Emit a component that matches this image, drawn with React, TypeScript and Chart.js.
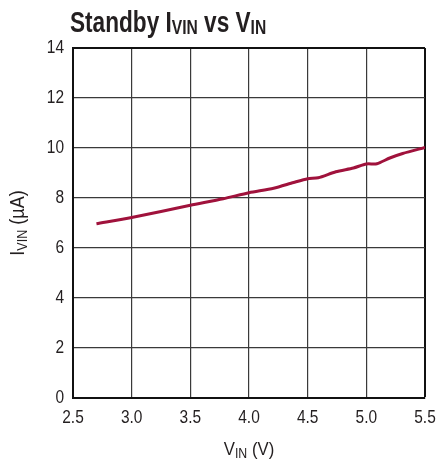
import React, { useEffect, useRef } from "react";
import { Chart, registerables } from "chart.js";

Chart.register(...registerables);

// Data
const vinVolts = [2.7, 3.0, 3.5, 3.78, 4.0, 4.21, 4.38, 4.5, 4.59, 4.74, 4.89, 5.0, 5.09, 5.2, 5.31, 5.5];
const iinMicroAmps = [6.97, 7.22, 7.71, 7.97, 8.21, 8.39, 8.62, 8.77, 8.81, 9.05, 9.2, 9.36, 9.37, 9.6, 9.78, 10.02];

const xMin = 2.5;
const xMax = 5.5;
const xStep = 0.5;
const yMin = 0;
const yMax = 14;
const yStep = 2;

type Run = { text: string; sub?: boolean };

const titleRuns: Run[] = [
  { text: "Standby I" },
  { text: "VIN", sub: true },
  { text: " vs V" },
  { text: "IN", sub: true },
];
const xTitleRuns: Run[] = [{ text: "V" }, { text: "IN", sub: true }, { text: " (V)" }];
const yTitleRuns: Run[] = [{ text: "I" }, { text: "VIN", sub: true }, { text: " (µA)" }];

const FAMILY = '"Liberation Sans", Arial, sans-serif';
const TEXT = "#231f20";
const NARROW = 0.86;

function drawRuns(
  ctx: CanvasRenderingContext2D,
  runs: Run[],
  x: number,
  y: number,
  mainFont: string,
  subFont: string,
  subDy: number,
  sx: number,
  align: "left" | "center" | "right"
) {
  let total = 0;
  for (const r of runs) {
    ctx.font = r.sub ? subFont : mainFont;
    total += ctx.measureText(r.text).width * sx;
  }
  let cx = align === "center" ? x - total / 2 : align === "right" ? x - total : x;
  for (const r of runs) {
    ctx.font = r.sub ? subFont : mainFont;
    const w = ctx.measureText(r.text).width * sx;
    ctx.save();
    ctx.translate(cx, y + (r.sub ? subDy : 0));
    ctx.scale(sx, 1);
    ctx.fillText(r.text, 0, 0);
    ctx.restore();
    cx += w;
  }
}

const labelsPlugin = {
  id: "labelsPlugin",
  afterDraw(chart: any) {
    const ctx: CanvasRenderingContext2D = chart.ctx;
    const area = chart.chartArea;
    const xs = chart.scales.x;
    const ys = chart.scales.y;
    ctx.save();
    ctx.fillStyle = TEXT;
    ctx.textAlign = "left";
    // Tick labels (condensed)
    ctx.textBaseline = "middle";
    const tickFont = `18px ${FAMILY}`;
    for (const t of ys.ticks) {
      const py = ys.getPixelForValue(t.value);
      drawRuns(ctx, [{ text: String(t.value) }], 64, py, tickFont, tickFont, 0, NARROW, "right");
    }
    for (const t of xs.ticks) {
      const px = xs.getPixelForValue(t.value);
      drawRuns(ctx, [{ text: Number(t.value).toFixed(1) }], px, 418, tickFont, tickFont, 0, NARROW, "center");
    }
    ctx.textBaseline = "alphabetic";
    // Title
    drawRuns(ctx, titleRuns, 70, 32, `bold 29px ${FAMILY}`, `bold 20px ${FAMILY}`, 2, 0.78, "left");
    // X axis title
    drawRuns(
      ctx,
      xTitleRuns,
      (area.left + area.right) / 2,
      455,
      `19px ${FAMILY}`,
      `14px ${FAMILY}`,
      3,
      0.88,
      "center"
    );
    // Y axis title
    ctx.save();
    ctx.translate(24, (area.top + area.bottom) / 2);
    ctx.rotate(-Math.PI / 2);
    drawRuns(ctx, yTitleRuns, 0, 0, `20px ${FAMILY}`, `14px ${FAMILY}`, 3, 0.9, "center");
    ctx.restore();
    ctx.restore();
  },
};

export default function App() {
  const ref = useRef<HTMLCanvasElement | null>(null);

  useEffect(() => {
    document.body.style.margin = "0";
    const canvas = ref.current;
    if (!canvas) return;
    const points = vinVolts.map((v, i) => ({ x: v, y: iinMicroAmps[i] }));
    const chart = new Chart(canvas, {
      type: "scatter",
      data: {
        datasets: [
          {
            data: points,
            showLine: true,
            borderColor: "#a0123c",
            backgroundColor: "#a0123c",
            borderWidth: 3,
            pointRadius: 0,
            tension: 0.25,
          },
        ],
      },
      options: {
        responsive: false,
        animation: false,
        devicePixelRatio: 1,
        layout: { padding: { left: 0, top: 48, right: 14, bottom: 0 } },
        plugins: {
          legend: { display: false },
          tooltip: { enabled: false },
          title: { display: false },
        },
        scales: {
          x: {
            type: "linear",
            min: xMin,
            max: xMax,
            afterFit: (s: any) => {
              s.height = 64;
            },
            ticks: {
              display: false,
              stepSize: xStep,
            },
            grid: {
              drawTicks: false,
              color: (c: any) => (c.tick && c.tick.value === xMax ? "#111" : "#3a3a3a"),
              lineWidth: (c: any) => (c.tick && c.tick.value === xMax ? 2 : 1.2),
            },
            border: { display: true, color: "#111", width: 2 },
          },
          y: {
            type: "linear",
            min: yMin,
            max: yMax,
            afterFit: (s: any) => {
              s.width = 73;
            },
            ticks: {
              display: false,
              stepSize: yStep,
            },
            grid: {
              drawTicks: false,
              color: (c: any) => (c.tick && c.tick.value === yMax ? "#111" : "#3a3a3a"),
              lineWidth: (c: any) => (c.tick && c.tick.value === yMax ? 2 : 1.2),
            },
            border: { display: true, color: "#111", width: 2 },
          },
        },
      },
      plugins: [labelsPlugin],
    });
    return () => chart.destroy();
  }, []);

  return (
    <div style={{ width: 439, height: 462, background: "#fff" }}>
      <canvas ref={ref} width={439} height={462} style={{ display: "block" }} />
    </div>
  );
}
